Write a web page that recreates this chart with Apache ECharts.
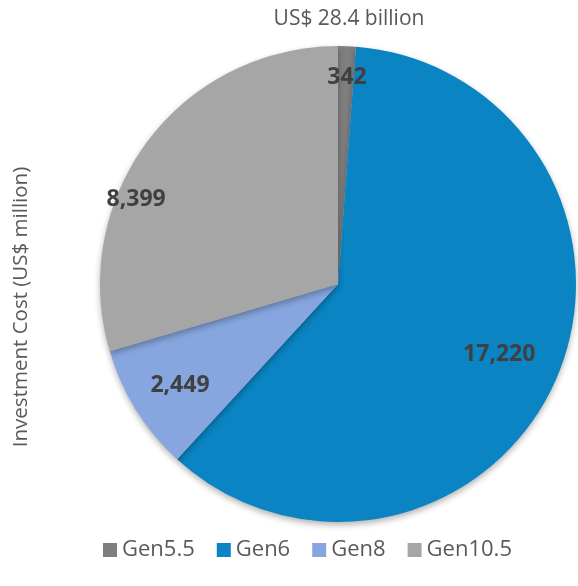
<!DOCTYPE html>
<html>
<head>
<meta charset="utf-8">
<script src="https://cdn.jsdelivr.net/npm/echarts@6/dist/echarts.min.js"></script>
<style>html,body{margin:0;padding:0;background:#fff;}#c{width:578px;height:586px;}</style>
</head>
<body>
<div id="c"></div>
<script>
const categories = ['Gen5.5', 'Gen6', 'Gen8', 'Gen10.5'];
const values = [342, 17220, 2449, 8399];
const titleText = 'US$ 28.4 billion';
const axisTitle = 'Investment Cost (US$ million)';

const colors = ['#7f7f7f', '#0a84c2', '#87a6df', '#a6a6a6'];
// label placement: [angle clockwise from top in degrees, fraction of radius]
const labelPlacement = [[2.5, 0.87], [113.7, 0.74], [237.2, 0.79], [292.8, 0.92]];
const CX = 338, CY = 284, R = 238;

const chart = echarts.init(document.getElementById('c'));
chart.setOption({
  animation: false,
  color: colors,
  title: {
    text: titleText, left: 344, top: 4, textAlign: 'center',
    textStyle: { fontFamily: 'Open Sans', fontSize: 21, fontWeight: 'normal', color: '#595959' }
  },
  graphic: [{
    type: 'text', x: 21, y: 307, rotation: Math.PI / 2,
    style: { text: axisTitle, font: '20.5px "Open Sans"', fill: '#595959', align: 'center', verticalAlign: 'middle' }
  }],
  legend: {
    data: categories, left: 98, top: 534, icon: 'rect', itemWidth: 14, itemHeight: 14, itemGap: 22,
    textStyle: { fontFamily: 'Open Sans', fontSize: 22, color: '#595959' }
  },
  series: [{
    type: 'pie', center: [CX, CY], radius: R, startAngle: 90, clockwise: true,
    itemStyle: { shadowBlur: 6, shadowColor: 'rgba(0,0,0,0.3)', shadowOffsetY: 3 },
    label: {
      show: true, position: 'inside', formatter: p => p.value.toLocaleString('en-US'),
      fontFamily: 'Open Sans', fontSize: 23, fontWeight: 'bold', color: '#404040'
    },
    labelLine: { show: false },
    labelLayout: function (p) {
      const pl = labelPlacement[p.dataIndex];
      const a = pl[0] * Math.PI / 180;
      return { x: CX + Math.sin(a) * R * pl[1], y: CY - Math.cos(a) * R * pl[1], align: 'center', verticalAlign: 'middle' };
    },
    emphasis: { disabled: true },
    data: categories.map((c, i) => ({ name: c, value: values[i] }))
  }]
});
</script>
</body>
</html>
